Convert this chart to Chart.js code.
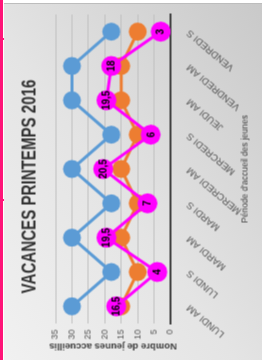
<!DOCTYPE html>
<html>
<head>
<meta charset="utf-8">
<script src="https://cdn.jsdelivr.net/npm/chart.js@4/dist/chart.umd.min.js"></script>
<style>
  html, body { margin: 0; padding: 0; background: #ffffff; }
  body { width: 267px; height: 360px; position: relative; overflow: hidden; }
  #pink { position: absolute; left: 0px; top: 0; width: 3px; height: 360px; background: #ff1478; }
  .stub { position: absolute; left: 3px; width: 2px; height: 2px; background: #ff1478; }
  #frame { position: absolute; left: 4px; top: 3px; width: 258px; height: 357px;
           background: linear-gradient(to top right, #f1f1f1 0%, #e4e4e4 45%, #c9c9c9 100%);
           border-top: 1px solid #bdbdbd; box-sizing: border-box; }
  #rot { position: absolute; width: 357px; height: 258px; left: -49.5px; top: 49.5px;
         transform: rotate(-90deg); transform-origin: 50% 50%; }
</style>
</head>
<body>
<div id="pink"></div>
<div class="stub" style="top:38px"></div>
<div class="stub" style="top:199px"></div>
<div id="frame">
  <div id="rot"><canvas id="c" width="357" height="258"></canvas></div>
</div>
<script>
const titre = 'VACANCES PRINTEMPS 2016';
const categories = ['LUNDI AM','LUNDI S','MARDI AM','MARDI S','MERCREDI AM','MERCREDI S','JEUDI AM','VENDREDI AM','VENDREDI S'];
const serieBleue = [30, 18, 30, 18, 30, 18, 30, 30, 18];
const serieOrange = [15, 10, 15, 10, 15, 10, 15, 15, 10];
const serieRose = [16.5, 4, 19.5, 7, 20.5, 6, 19.5, 18, 3];
const yTicks = [0, 5, 10, 15, 20, 25, 30, 35];

const labelPlugin = {
  id: 'roseLabels',
  afterDatasetsDraw(chart) {
    const ctx = chart.ctx;
    chart.data.datasets.forEach((ds, i) => {
      if (!ds.showLabels) return;
      const meta = chart.getDatasetMeta(i);
      ctx.save();
      ctx.font = 'bold 10px "Liberation Sans", Arial, sans-serif';
      ctx.fillStyle = '#000000';
      ctx.textAlign = 'center';
      ctx.textBaseline = 'middle';
      meta.data.forEach((el, j) => {
        ctx.fillText(String(ds.data[j]).replace('.', ','), el.x, el.y + 0.5);
      });
      ctx.restore();
    });
  }
};

// narrow title (horizontally condensed like the original font)
const titlePlugin = {
  id: 'narrowTitle',
  afterDraw(chart) {
    const ctx = chart.ctx;
    ctx.save();
    ctx.translate(175, 25);
    ctx.scale(0.72, 1);
    ctx.font = 'bold 21px "Liberation Sans", Arial, sans-serif';
    ctx.fillStyle = '#333333';
    ctx.textAlign = 'center';
    ctx.textBaseline = 'middle';
    ctx.fillText(titre, 0, 0);
    ctx.restore();
  }
};

new Chart(document.getElementById('c'), {
  type: 'line',
  data: {
    labels: categories,
    datasets: [
      { data: serieRose, borderColor: '#ff00ff', backgroundColor: '#ff00ff', borderWidth: 3,
        pointRadius: 10, pointBorderWidth: 0, pointBackgroundColor: '#ff00ff', order: 1, showLabels: true },
      { data: serieOrange, borderColor: '#ed7d31', backgroundColor: '#ed7d31', borderWidth: 3,
        pointRadius: 9, pointBorderWidth: 0, pointBackgroundColor: '#ed7d31', order: 2 },
      { data: serieBleue, borderColor: '#5b9bd5', backgroundColor: '#5b9bd5', borderWidth: 3,
        pointRadius: 9, pointBorderWidth: 0, pointBackgroundColor: '#5b9bd5', order: 3 }
    ]
  },
  options: {
    responsive: false,
    animation: false,
    devicePixelRatio: 1,
    layout: { padding: { top: 51, right: 10, bottom: 0, left: 0 } },
    plugins: {
      legend: { display: false },
      tooltip: { enabled: false },
      title: { display: false }
    },
    scales: {
      x: {
        offset: true,
        grid: { display: false },
        border: { display: true, color: '#404040', width: 2 },
        ticks: {
          color: '#595959', minRotation: 50, maxRotation: 50, autoSkip: false, padding: 6,
          font: { family: '"Liberation Sans", Arial, sans-serif', size: 9.5 }
        },
        title: {
          display: true, text: "Période d'accueil des jeunes", color: '#404040',
          font: { family: '"Liberation Sans", Arial, sans-serif', size: 8.5 },
          padding: { top: 0, bottom: 12 }
        },
        afterFit(scale) { scale.height = 92; }
      },
      y: {
        min: 0, max: 35,
        afterBuildTicks(scale) { scale.ticks = yTicks.map(v => ({ value: v })); },
        grid: { color: '#bfbfbf', lineWidth: 1, drawTicks: false },
        border: { display: false },
        ticks: {
          color: '#595959', padding: 6,
          font: { family: '"Liberation Sans", Arial, sans-serif', size: 9 }
        },
        title: {
          display: true, text: 'Nombre de jeunes accueillis', color: '#404040',
          font: { family: '"Liberation Sans", Arial, sans-serif', size: 9.5, weight: 'bold' },
          padding: { top: 9.5, bottom: 0 }
        },
        afterFit(scale) { scale.width = 38; }
      }
    }
  },
  plugins: [labelPlugin, titlePlugin]
});
</script>
</body>
</html>
